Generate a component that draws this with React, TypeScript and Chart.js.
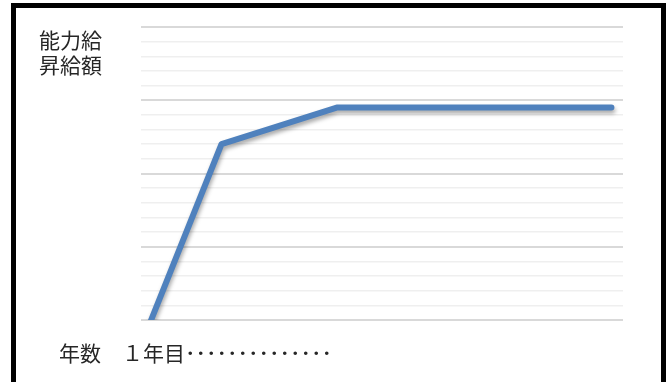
import React, { useEffect, useRef } from "react";
import { Chart, registerables } from "chart.js";

Chart.register(...registerables);

// Data (x: position along the years axis, 0–100; y: raise amount, 0–20)
const xYears: number[] = [2.1, 16.7, 40.6, 97.6];
const raiseAmount: number[] = [0, 12, 14.5, 14.5];
const yTicks: number[] = Array.from({ length: 21 }, (_, i) => i);
const yLabelLines: string[] = ["能力給", "昇給額"];
const xLabelText = "年数　１年目･･････････････";

const shadowPlugin = {
  id: "lineShadow",
  beforeDatasetsDraw(chart: any) {
    const ctx = chart.ctx;
    ctx.save();
    ctx.shadowColor = "rgba(0,0,0,0.35)";
    ctx.shadowBlur = 4;
    ctx.shadowOffsetX = 1;
    ctx.shadowOffsetY = 3;
  },
  afterDatasetsDraw(chart: any) {
    chart.ctx.restore();
  },
};

export default function App() {
  const ref = useRef<HTMLCanvasElement | null>(null);
  useEffect(() => {
    if (!ref.current) return;
    const chart = new Chart(ref.current, {
      type: "line",
      data: {
        datasets: [
          {
            data: xYears.map((x, i) => ({ x, y: raiseAmount[i] })),
            borderColor: "#4f81bd",
            borderWidth: 6,
            borderCapStyle: "round",
            borderJoinStyle: "round",
            pointRadius: 0,
            tension: 0,
            fill: false,
            clip: { left: 8, top: 8, right: 8, bottom: 0 },
          } as any,
        ],
      },
      options: {
        animation: false,
        responsive: false,
        maintainAspectRatio: false,
        layout: { padding: { left: 141, top: 27, right: 48, bottom: 62 } },
        plugins: { legend: { display: false }, tooltip: { enabled: false }, title: { display: false } },
        scales: {
          x: { type: "linear", min: 0, max: 100, display: false },
          y: {
            type: "linear",
            min: 0,
            max: 20,
            afterBuildTicks: (scale: any) => {
              scale.ticks = yTicks.map((v) => ({ value: v }));
            },
            ticks: { display: false },
            border: { display: false },
            grid: {
              drawTicks: false,
              color: (c: any) => (c.tick && c.tick.value % 5 === 0 ? "#d9d9d9" : "#efefef"),
              lineWidth: (c: any) => (c.tick && c.tick.value % 5 === 0 ? 2 : 1.5),
            },
          },
        },
      },
      plugins: [shadowPlugin],
    });
    return () => chart.destroy();
  }, []);

  const textStyle: React.CSSProperties = {
    position: "absolute",
    fontFamily: '"Noto Sans CJK JP", "Noto Sans", sans-serif',
    fontSize: "21px",
    lineHeight: "25px",
    color: "#262626",
    whiteSpace: "pre",
  };

  return (
    <div style={{ position: "fixed", left: 0, top: 0, width: 671, height: 382, background: "#fff", overflow: "hidden" }}>
      <canvas ref={ref} width={671} height={382} style={{ position: "absolute", left: 0, top: 0, width: 671, height: 382 }} />
      <div
        style={{
          position: "absolute",
          left: 11,
          top: 3,
          width: 645,
          height: 400,
          borderTop: "5px solid #000",
          borderLeft: "5px solid #000",
          borderRight: "5px solid #000",
          pointerEvents: "none",
        }}
      />
      <div style={{ ...textStyle, left: 39, top: 27 }}>
        {yLabelLines.map((l) => (
          <div key={l}>{l}</div>
        ))}
      </div>
      <div style={{ ...textStyle, left: 59, top: 340 }}>{xLabelText}</div>
    </div>
  );
}
